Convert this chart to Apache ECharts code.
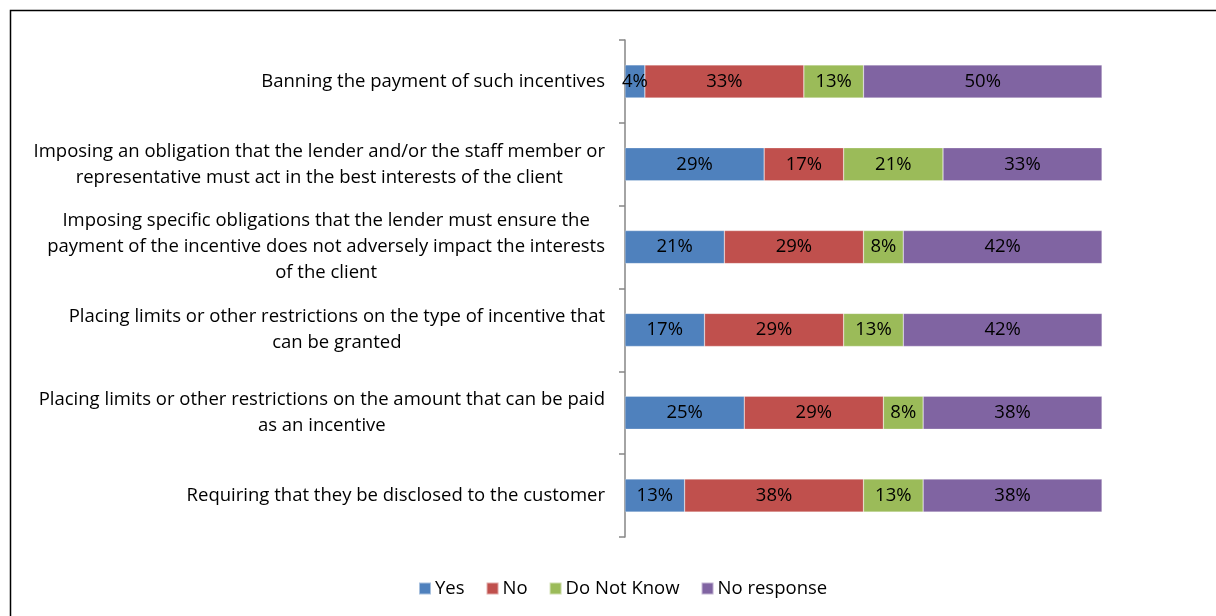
<!DOCTYPE html>
<html>
<head>
<meta charset="utf-8">
<script src="https://cdn.jsdelivr.net/npm/echarts@6/dist/echarts.min.js"></script>
<style>
html,body{margin:0;padding:0;background:#fff;}
#chart{width:1216px;height:616px;}
</style>
</head>
<body>
<div id="chart"></div>
<script>
const categories = [
  "Banning the payment of such incentives",
  "Imposing an obligation that the lender and/or the staff member or\nrepresentative must act in the best interests of the client",
  "Imposing specific obligations that the lender must ensure the\npayment of the incentive does not adversely impact the interests\nof the client",
  "Placing limits or other restrictions on the type of incentive that\ncan be granted",
  "Placing limits or other restrictions on the amount that can be paid\nas an incentive",
  "Requiring that they be disclosed to the customer"
];
const seriesNames = ["Yes", "No", "Do Not Know", "No response"];
const yesValues        = [4.17, 29.17, 20.83, 16.67, 25.0, 12.5];
const noValues         = [33.33, 16.67, 29.17, 29.17, 29.17, 37.5];
const doNotKnowValues  = [12.5, 20.83, 8.33, 12.5, 8.33, 12.5];
const noResponseValues = [50.0, 33.33, 41.67, 41.67, 37.5, 37.5];
const colors = ["#4F81BD", "#C0504D", "#9BBB59", "#8064A2"];

const FONT = "Open Sans";
const FS = 18.5;
const allValues = [yesValues, noValues, doNotKnowValues, noResponseValues];

const chart = echarts.init(document.getElementById('chart'), null, {renderer: 'canvas'});
chart.setOption({
  animation: false,
  backgroundColor: '#fff',
  textStyle: {fontFamily: FONT},
  grid: {left: 625, right: 114, top: 40, bottom: 79, containLabel: false},
  legend: {
    data: seriesNames,
    left: 413,
    top: 574,
    itemWidth: 12,
    itemHeight: 12,
    itemGap: 21,
    icon: 'rect',
    textStyle: {fontFamily: FONT, fontSize: FS, color: '#000', padding: [0, 0, 0, -1]}
  },
  xAxis: {
    type: 'value',
    min: 0,
    max: 100,
    show: false
  },
  yAxis: {
    type: 'category',
    data: categories,
    inverse: true,
    axisLine: {show: true, lineStyle: {color: '#868686', width: 1.5}},
    axisTick: {show: true, length: 6, lineStyle: {color: '#868686', width: 1.5}},
    splitLine: {show: false},
    axisLabel: {
      margin: 20,
      fontFamily: FONT,
      fontSize: FS,
      color: '#000',
      lineHeight: 26,
      formatter: function (v) {
        return v.split('\n').map(l => '{c|' + l + '}').join('\n');
      },
      rich: {c: {align: 'center', fontFamily: FONT, fontSize: FS, color: '#000', lineHeight: 26}}
    }
  },
  graphic: [{
    type: 'rect',
    shape: {x: 10.5, y: 10.5, width: 1400, height: 800},
    style: {fill: 'none', stroke: '#000', lineWidth: 1.5},
    silent: true
  }],
  series: seriesNames.map((name, i) => ({
    name: name,
    type: 'bar',
    stack: 'total',
    barWidth: 33,
    data: allValues[i],
    itemStyle: {color: colors[i], borderColor: 'rgba(255,255,255,0.5)', borderWidth: 0.5},
    label: {
      show: true,
      position: 'inside',
      color: '#000',
      fontFamily: FONT,
      fontSize: FS,
      formatter: p => Math.round(p.value) + '%'
    }
  }))
});
</script>
</body>
</html>
